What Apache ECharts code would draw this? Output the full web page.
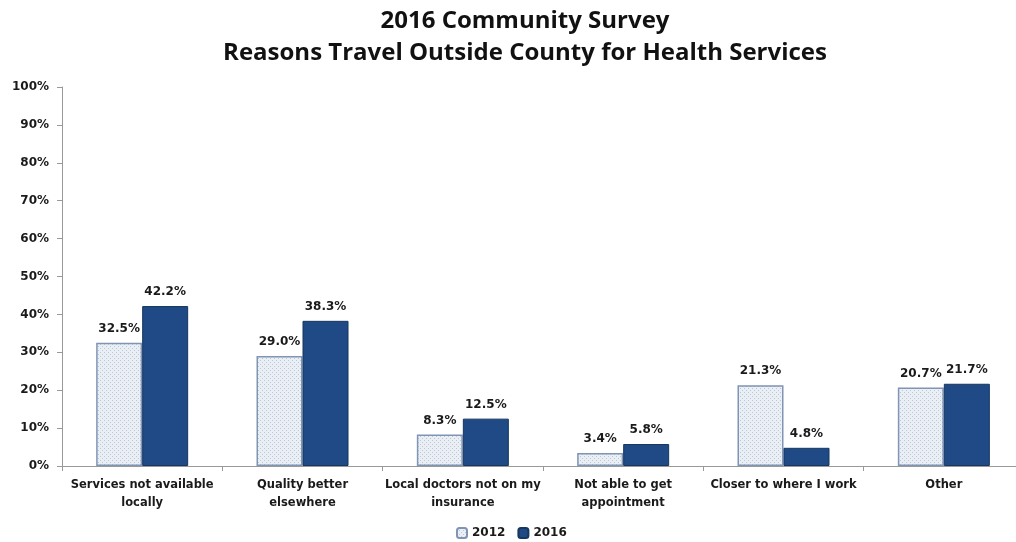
<!DOCTYPE html>
<html>
<head>
<meta charset="utf-8">
<script src="https://cdn.jsdelivr.net/npm/echarts@6/dist/echarts.min.js"></script>
<style>
  html, body { margin: 0; padding: 0; background: #fff; overflow: hidden; }
  #chart { width: 1024px; height: 542px; }
</style>
</head>
<body>
<div id="chart"></div>
<script>
// Survey answers, percent of respondents
const categories = [
  'Services not available\nlocally',
  'Quality better\nelsewhere',
  'Local doctors not on my\ninsurance',
  'Not able to get\nappointment',
  'Closer to where I work',
  'Other'
];
const values2012 = [32.5, 29.0, 8.3, 3.4, 21.3, 20.7];
const values2016 = [42.2, 38.3, 12.5, 5.8, 4.8, 21.7];
const seriesNames = ['2012', '2016'];

// Light dotted fill for the 2012 bars
function dottedFill() {
  const c = document.createElement('canvas');
  c.width = 4; c.height = 4;
  const g = c.getContext('2d');
  g.fillStyle = '#eaeff6';
  g.fillRect(0, 0, 4, 4);
  g.fillStyle = '#bcc6d4';
  g.fillRect(0, 0, 1, 1);
  g.fillRect(2, 2, 1, 1);
  return { image: c, repeat: 'repeat' };
}

const xFont = { fontFamily: 'DejaVu Sans', fontWeight: 'bold', fontSize: 11.5, color: '#1a1a1a' };
const yFont = { fontFamily: 'DejaVu Sans', fontWeight: 'bold', fontSize: 12, color: '#1a1a1a' };
const valueFont = { fontFamily: 'DejaVu Sans', fontWeight: 'bold', fontSize: 12, color: '#1a1a1a' };
const pct = p => p.value.toFixed(1) + '%';

const chart = echarts.init(document.getElementById('chart'));
chart.setOption({
  animation: false,
  title: {
    text: '2016 Community Survey\nReasons Travel Outside County for Health Services',
    left: 520,
    textAlign: 'center',
    top: 0,
    textStyle: { fontFamily: 'Open Sans', fontWeight: 'bold', fontSize: 24, lineHeight: 32, color: '#111' }
  },
  legend: {
    bottom: -2,
    left: 451,
    itemWidth: 10,
    itemHeight: 10,
    itemGap: 12,
    textStyle: valueFont,
    data: seriesNames
  },
  grid: { left: 62, right: 0, top: 87, bottom: 76 },
  xAxis: {
    type: 'category',
    data: categories,
    axisLine: { lineStyle: { color: '#999' } },
    axisTick: { show: true, alignWithLabel: false, length: 5, lineStyle: { color: '#999' } },
    axisLabel: Object.assign({ interval: 0, margin: 10, lineHeight: 18 }, xFont)
  },
  yAxis: {
    type: 'value',
    min: 0, max: 100, interval: 10,
    axisLine: { show: true, lineStyle: { color: '#999' } },
    axisTick: { show: true, length: 5, lineStyle: { color: '#999' } },
    splitLine: { show: false },
    axisLabel: Object.assign({ formatter: '{value}%', margin: 13 }, yFont)
  },
  series: [
    {
      name: seriesNames[0],
      type: 'bar',
      data: values2012,
      barWidth: 46,
      barGap: '0%',
      itemStyle: { color: dottedFill(), borderColor: '#8094b4', borderWidth: 1.5 },
      label: Object.assign({ show: true, position: 'top', distance: 8, formatter: pct }, valueFont)
    },
    {
      name: seriesNames[1],
      type: 'bar',
      data: values2016,
      barWidth: 46,
      barGap: '0%',
      itemStyle: { color: '#1f4a85', borderColor: '#17375e', borderWidth: 1 },
      label: Object.assign({ show: true, position: 'top', distance: 8, formatter: pct }, valueFont)
    }
  ]
});
</script>
</body>
</html>
